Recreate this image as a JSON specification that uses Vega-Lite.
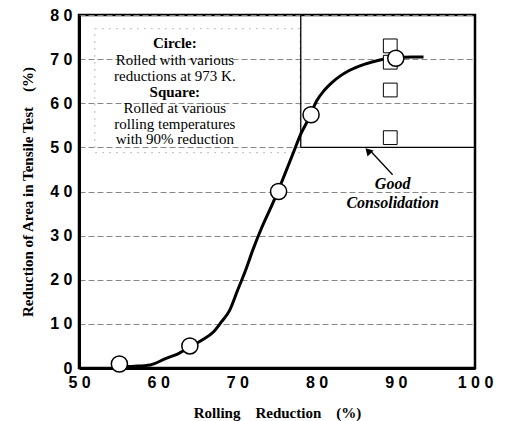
{
  "$schema": "https://vega.github.io/schema/vega-lite/v6.json",
  "autosize": {"type": "none"},
  "padding": {"left": 79, "top": 15, "right": 32, "bottom": 53},
  "width": 396,
  "height": 353,
  "background": "white",
  "config": {
    "view": {"stroke": "black", "strokeWidth": 2.5},
    "font": "Liberation Serif"
  },
  "datasets": {
    "curve": [
      {"x": 55, "y": 0.3}, {"x": 57, "y": 0.4}, {"x": 59, "y": 0.7}, {"x": 61, "y": 2.2},
      {"x": 62.5, "y": 3.2}, {"x": 64, "y": 4.8}, {"x": 65.5, "y": 6.3}, {"x": 67, "y": 8.2},
      {"x": 68, "y": 10.5}, {"x": 69, "y": 13}, {"x": 70, "y": 17.5}, {"x": 71, "y": 22},
      {"x": 72, "y": 27}, {"x": 73, "y": 31.5}, {"x": 74, "y": 35.5}, {"x": 75, "y": 39.5},
      {"x": 76, "y": 44}, {"x": 77, "y": 48.5}, {"x": 78, "y": 53}, {"x": 79, "y": 56.5},
      {"x": 80, "y": 60.5}, {"x": 81, "y": 63}, {"x": 82, "y": 64.8}, {"x": 83, "y": 66.2},
      {"x": 84, "y": 67.3}, {"x": 86, "y": 68.8}, {"x": 88, "y": 69.8}, {"x": 90, "y": 70.3},
      {"x": 92, "y": 70.5}, {"x": 93.5, "y": 70.5}
    ],
    "circles": [
      {"x": 55.1, "y": 0.9}, {"x": 64.0, "y": 5.0}, {"x": 75.2, "y": 40.0},
      {"x": 79.3, "y": 57.4}, {"x": 90.0, "y": 70.2}
    ],
    "squares": [
      {"x": 89.3, "y": 73.0}, {"x": 89.3, "y": 69.3}, {"x": 89.3, "y": 63.0}, {"x": 89.3, "y": 52.2}
    ],
    "legendText": [
      {"x": 62.1, "y": 69.8, "t": "Rolled with various"},
      {"x": 62.1, "y": 66.2, "t": "reductions at 973 K."},
      {"x": 62.1, "y": 58.9, "t": "Rolled at various"},
      {"x": 62.1, "y": 55.3, "t": "rolling temperatures"},
      {"x": 62.1, "y": 51.9, "t": "with 90% reduction"}
    ],
    "legendBold": [
      {"x": 62.1, "y": 73.7, "t": "Circle:"},
      {"x": 62.1, "y": 62.6, "t": "Square:"}
    ]
  },
  "layer": [
    {
      "data": {"values": [{"x": 52.0, "x2": 77.9, "y": 48.8, "y2": 76.9}]},
      "mark": {"type": "rect", "fill": null, "fillOpacity": 0, "stroke": "#bbbbbb", "strokeWidth": 1, "strokeDash": [2, 5]},
      "encoding": {
        "x": {"field": "x", "type": "quantitative", "scale": {"domain": [50, 100], "nice": false, "zero": false},
          "axis": {"values": [50, 60, 70, 80, 90, 100], "labelExpr": "join(split(datum.label, ''), ' ')",
            "title": "Rolling\u00a0\u00a0\u00a0\u00a0Reduction\u00a0\u00a0\u00a0\u00a0(%)", "titleFont": "Liberation Serif", "titleFontSize": 15, "titleFontWeight": "bold",
            "titlePadding": 15, "labelFont": "Liberation Sans", "labelFontSize": 16, "labelFontWeight": "bold", "labelColor": "black",
            "labelPadding": 6, "ticks": false, "domainColor": "black", "domainWidth": 3, "grid": false, "titleColor": "black", "labelFlush": false}},
        "x2": {"field": "x2"},
        "y": {"field": "y", "type": "quantitative", "scale": {"domain": [0, 80], "nice": false},
          "axis": {"values": [0, 10, 20, 30, 40, 50, 60, 70, 80], "labelExpr": "join(split(datum.label, ''), ' ')",
            "title": "Reduction of Area in Tensile Test\u00a0\u00a0\u00a0\u00a0(%)", "titleFont": "Liberation Serif", "titleFontSize": 15, "titleFontWeight": "bold",
            "titlePadding": 14, "labelFont": "Liberation Sans", "labelFontSize": 16, "labelFontWeight": "bold", "labelColor": "black",
            "labelPadding": 7, "ticks": false, "domainColor": "black", "domainWidth": 3, "titleColor": "black", "labelFlush": false,
            "grid": true, "gridColor": "#888888", "gridDash": [6, 3], "gridWidth": 1}},
        "y2": {"field": "y2"}
      }
    },
    {
      "data": {"values": [{"x": 78, "x2": 78, "y": 50, "y2": 80}, {"x": 78, "x2": 100, "y": 50, "y2": 50}]},
      "mark": {"type": "rule", "color": "black", "strokeWidth": 1.3},
      "encoding": {
        "x": {"field": "x", "type": "quantitative"}, "x2": {"field": "x2"},
        "y": {"field": "y", "type": "quantitative"}, "y2": {"field": "y2"}
      }
    },
    {
      "data": {"name": "curve"},
      "mark": {"type": "line", "color": "black", "strokeWidth": 3, "interpolate": "monotone"},
      "encoding": {"x": {"field": "x", "type": "quantitative"}, "y": {"field": "y", "type": "quantitative"}}
    },
    {
      "data": {"name": "squares"},
      "mark": {"type": "point", "shape": "square", "filled": true, "fill": "white", "stroke": "black", "strokeWidth": 1, "size": 190, "opacity": 1},
      "encoding": {"x": {"field": "x", "type": "quantitative"}, "y": {"field": "y", "type": "quantitative"}}
    },
    {
      "data": {"name": "circles"},
      "mark": {"type": "point", "shape": "circle", "filled": true, "fill": "white", "stroke": "black", "strokeWidth": 1.5, "size": 260, "opacity": 1},
      "encoding": {"x": {"field": "x", "type": "quantitative"}, "y": {"field": "y", "type": "quantitative"}}
    },
    {
      "data": {"values": [{"x": 89.6, "y": 43.8, "x2": 86.9, "y2": 49.0}]},
      "mark": {"type": "rule", "color": "black", "strokeWidth": 1.3},
      "encoding": {
        "x": {"field": "x", "type": "quantitative"}, "x2": {"field": "x2"},
        "y": {"field": "y", "type": "quantitative"}, "y2": {"field": "y2"}
      }
    },
    {
      "data": {"values": [{"x": 86.6, "y": 49.0}]},
      "mark": {"type": "point", "shape": "triangle", "filled": true, "color": "black", "size": 70, "angle": 316, "opacity": 1},
      "encoding": {"x": {"field": "x", "type": "quantitative"}, "y": {"field": "y", "type": "quantitative"}}
    },
    {
      "data": {"values": [{"x": 89.6, "y": 41.6, "t": "Good"}, {"x": 89.6, "y": 37.4, "t": "Consolidation"}]},
      "mark": {"type": "text", "font": "Liberation Serif", "fontSize": 16, "fontWeight": "bold", "fontStyle": "italic", "color": "black", "align": "center", "baseline": "middle"},
      "encoding": {"x": {"field": "x", "type": "quantitative"}, "y": {"field": "y", "type": "quantitative"}, "text": {"field": "t"}}
    },
    {
      "data": {"name": "legendText"},
      "mark": {"type": "text", "font": "Liberation Serif", "fontSize": 15, "color": "black", "align": "center", "baseline": "middle"},
      "encoding": {"x": {"field": "x", "type": "quantitative"}, "y": {"field": "y", "type": "quantitative"}, "text": {"field": "t"}}
    },
    {
      "data": {"name": "legendBold"},
      "mark": {"type": "text", "font": "Liberation Serif", "fontSize": 15, "fontWeight": "bold", "color": "black", "align": "center", "baseline": "middle"},
      "encoding": {"x": {"field": "x", "type": "quantitative"}, "y": {"field": "y", "type": "quantitative"}, "text": {"field": "t"}}
    }
  ]
}
